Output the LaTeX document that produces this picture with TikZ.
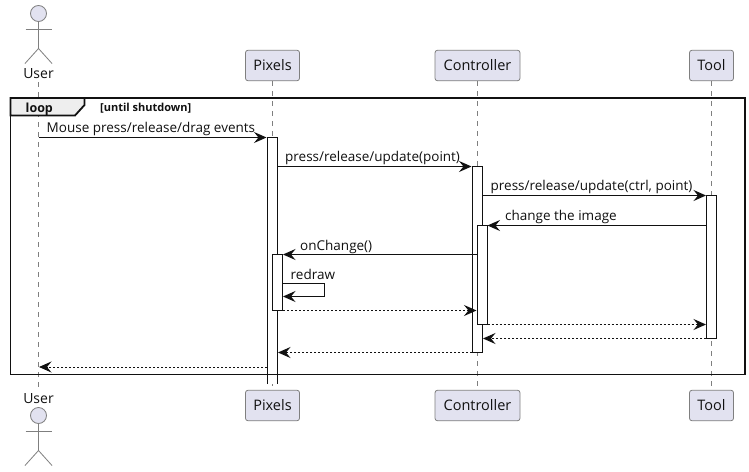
\documentclass[tikz,border=0pt]{standalone}
\usepackage{fontspec}
\setmainfont{Open Sans}
\usetikzlibrary{arrows.meta, positioning}
\definecolor{partfill}{HTML}{E2E2F0}
\definecolor{partline}{HTML}{7F7F7F}
\definecolor{tabfill}{HTML}{EEEEEE}
\definecolor{inkline}{HTML}{111111}

\begin{document}
\begin{tikzpicture}[
            x=1pt, y=-1pt,
            part/.style={draw=partline, fill=partfill, rounded corners=2.5pt, line width=0.8pt,
                inner sep=0pt, minimum height=30.5pt, text=inkline, font=\fontsize{14.5}{16}\selectfont},
            actorname/.style={font=\fontsize{14}{16}\selectfont, anchor=base, text=inkline},
            lifeline/.style={draw=partline, line width=0.8pt, dash pattern=on 5pt off 5pt},
            limb/.style={draw=partline, line width=0.8pt},
            actbar/.style={draw=inkline, fill=white, line width=1pt, inner sep=0pt, minimum width=10pt},
            msg/.style={draw=inkline, line width=1pt, -{Stealth[length=12.5pt, width=11pt, inset=4.5pt]}},
            reply/.style={msg, dash pattern=on 2pt off 2pt},
            msgtext/.style={font=\fontsize{13.5}{15}\selectfont, anchor=base west, inner sep=0pt, text=inkline}
        ]
        \useasboundingbox (0, 0) rectangle (749, 471);
        \fill[white] (0, 0) rectangle (749, 471);

        % participants
        \node[part, minimum width=54pt] (pixelsTop) at (272.5, 65.5) {Pixels};
        \node[part, minimum width=85pt] (controllerTop) at (477.5, 65.5) {Controller};
        \node[part, minimum width=44pt] (toolTop) at (711.5, 65.5) {Tool};
        \node[part, minimum width=54pt] (pixelsBottom) at (272.5, 405.5) {Pixels};
        \node[part, minimum width=85pt] (controllerBottom) at (477.5, 405.5) {Controller};
        \node[part, minimum width=44pt] (toolBottom) at (711.5, 405.5) {Tool};
        \node[actorname] (userTop) at (38.5, 78.5) {User};
        \node[actorname] (userBottom) at (38.5, 403) {User};

        % lifelines
        \draw[lifeline] (userTop.south) -- (userBottom.north);
        \draw[lifeline] (pixelsTop.south) -- (pixelsBottom.north);
        \draw[lifeline] (controllerTop.south) -- (controllerBottom.north);
        \draw[lifeline] (toolTop.south) -- (toolBottom.north);

        % actors
        \foreach \yy in {0, 402} {
            \draw[limb, fill=partfill] (38.5, 13.5 + \yy) circle (8);
            \draw[limb] (38.5, 21.5 + \yy) -- (38.5, 48.5 + \yy);
            \draw[limb] (25.5, 29.5 + \yy) -- (51.5, 29.5 + \yy);
            \draw[limb] (25, 63.5 + \yy) -- (38.5, 48.5 + \yy) -- (52, 63.5 + \yy);
        }

        % activations
        \fill[white] (267.5, 137.5) rectangle (277.5, 384);
        \draw[actbar] (267.5, 384) -- (267.5, 137.5) -- (277.5, 137.5) -- (277.5, 384);
        \node[actbar, minimum height=56pt] (pixelsInner) at (277.5, 282) {};
        \node[actbar, minimum height=186pt] (controllerBar) at (477, 259) {};
        \node[actbar, minimum height=98.5pt] (controllerInner) at (482, 274.75) {};
        \node[actbar, minimum height=142.5pt] (toolBar) at (711.5, 266.75) {};

        % messages
        \foreach \nm/\xa/\xb/\yy/\kind in {
                a/38.5/266.5/137.5/msg,
                b/278/471.5/166.5/msg,
                c/482.5/706/195.5/msg,
                d/706/487.5/225.5/msg,
                e/477/283/254.5/msg,
                f/283/476.5/310.5/reply,
                g/487.5/706/324.5/reply,
                h/706/483/338.5/reply,
                i/472/278/352.5/reply,
                j/267/39/367/reply} {
            \coordinate (\nm From) at (\xa, \yy);
            \coordinate (\nm To) at (\xb, \yy);
            \draw[\kind] (\nm From) -- (\nm To);
        }
        \coordinate (redrawFrom) at (283, 283.5);
        \coordinate (redrawTo) at (283, 296.5);
        \draw[msg] (redrawFrom) -- (324.5, 283.5) -- (324.5, 296.5) -- (redrawTo);

        \node[msgtext] (mouseLabel) at (46.5, 132) {Mouse press/release/drag events};
        \node[msgtext] (pressLabel) at (285, 161.5) {press/release/update(point)};
        \node[msgtext] (pressToolLabel) at (490.5, 190.5) {press/release/update(ctrl, point)};
        \node[msgtext] (changeLabel) at (505, 220) {change the image};
        \node[msgtext] (onChangeLabel) at (300, 250) {onChange()};
        \node[msgtext] (redrawLabel) at (290.5, 279) {redraw};

        % loop frame
        \draw[inkline, line width=1.8pt] (10.5, 98) rectangle (745, 374.5);
        \draw[inkline, line width=1.8pt, fill=tabfill] (10.5, 98) -- (84.5, 98) -- (84.5, 105)
            -- (75, 115.5) -- (10.5, 115.5) -- cycle;
        \node[anchor=base west, inner sep=0pt, text=inkline, font=\fontsize{12.5}{15}\selectfont\bfseries] (loopLabel) at (25.5, 112) {loop};
        \node[anchor=base west, inner sep=0pt, text=inkline, font=\fontsize{11}{12}\selectfont\bfseries] (guardLabel) at (100, 111) {[until shutdown]};
    \end{tikzpicture}
\end{document}
